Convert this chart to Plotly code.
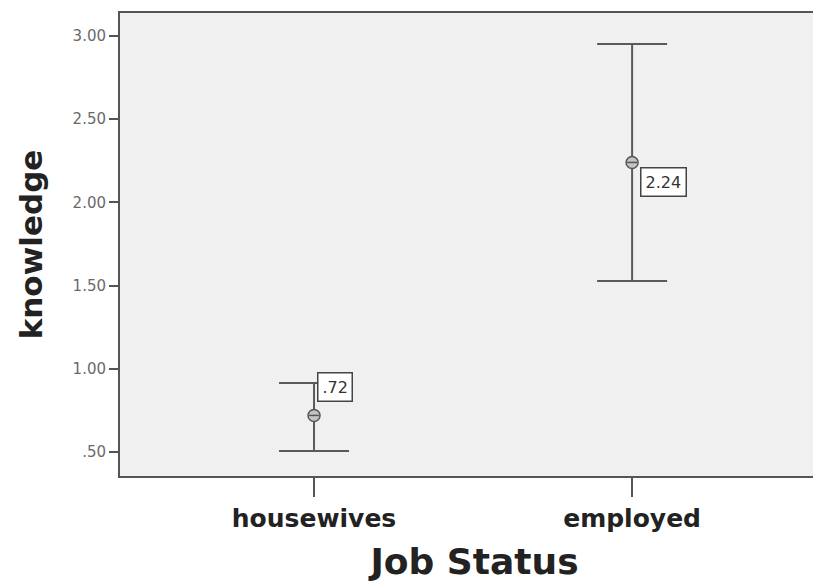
import plotly.graph_objects as go

# job status groups, mean knowledge and the error bar ends
groups = ["housewives", "employed"]
means = [0.72, 2.24]
upper = [0.915, 2.952]
lower = [0.506, 1.528]
mean_labels = [".72", "2.24"]

y_ticks = [0.5, 1.0, 1.5, 2.0, 2.5, 3.0]
y_ticktext = [".50", "1.00", "1.50", "2.00", "2.50", "3.00"]

FONT = "DejaVu Sans"

fig = go.Figure()
fig.add_trace(go.Scatter(
    x=groups,
    y=means,
    mode="markers",
    marker=dict(symbol="circle", size=12, color="#c4c4c4",
                line=dict(color="#555555", width=1.5)),
    error_y=dict(
        type="data",
        symmetric=False,
        array=[u - m for u, m in zip(upper, means)],
        arrayminus=[m - l for m, l in zip(means, lower)],
        color="#5a5a5a",
        thickness=2,
        width=35,
    ),
    showlegend=False,
))
# dash inside the mean marker
fig.add_trace(go.Scatter(
    x=groups, y=means, mode="markers",
    marker=dict(symbol="line-ew-open", size=7, color="#555555",
                line=dict(color="#555555", width=1.5)),
    showlegend=False, hoverinfo="skip",
))

# boxed mean labels
shifts = [(3, 28), (8, -20)]
for g, m, t, (dx, dy) in zip(groups, means, mean_labels, shifts):
    fig.add_annotation(
        x=g, y=m, text=t, showarrow=False,
        xanchor="left", yanchor="middle", xshift=dx, yshift=dy,
        font=dict(family=FONT, size=16, color="#333333"),
        bgcolor="white", bordercolor="#444444", borderwidth=1.5, borderpad=4,
    )

fig.update_layout(
    width=821,
    height=574,
    margin=dict(l=112, r=0, t=5, b=106),
    paper_bgcolor="white",
    plot_bgcolor="#f0f0f0",
    font=dict(family=FONT, color="#222222"),
    xaxis=dict(
        type="category",
        range=[-0.61, 1.619],
        showline=True, linecolor="#555555", linewidth=2, mirror=True,
        ticks="outside", ticklen=19, tickwidth=2, tickcolor="#555555",
        tickfont=dict(size=25, family=FONT, color="#222222", weight="bold"),
        showgrid=False, zeroline=False,
        title=dict(text="<b>Job Status</b>", font=dict(size=36), standoff=22),
    ),
    yaxis=dict(
        range=[0.356, 3.138],
        tickvals=y_ticks, ticktext=y_ticktext,
        showline=True, linecolor="#555555", linewidth=2,
        ticks="outside", ticklen=9, tickwidth=2, tickcolor="#555555",
        tickfont=dict(size=15, color="#6a6a6a"),
        showgrid=False, zeroline=False,
        title=dict(text="<b>knowledge</b>", font=dict(size=31), standoff=21),
    ),
)

fig.write_html("out.html")
